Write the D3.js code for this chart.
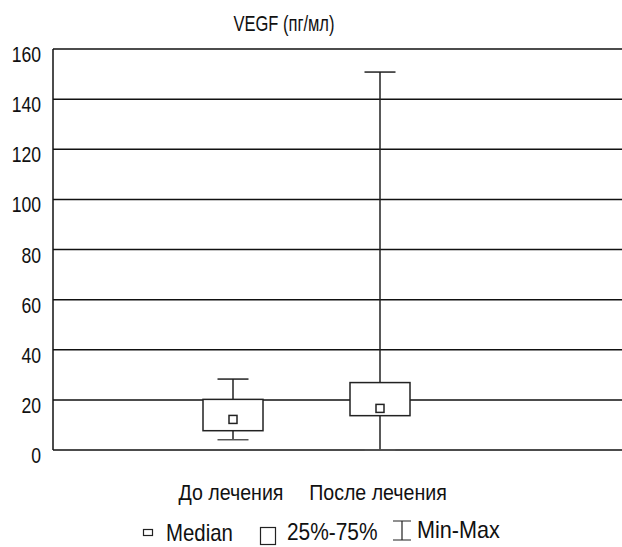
<!DOCTYPE html>
<html>
<head>
<meta charset="utf-8">
<script src="https://cdn.jsdelivr.net/npm/d3@7"></script>
<style>
	body { margin: 0; background: #fff; }
	svg { display: block; }
	text { font-family: "Liberation Sans", Arial, sans-serif; fill: #111; }
</style>
</head>
<body>
<svg id="chart" width="622" height="547"></svg>
<script>
const groups = ['До лечения', 'После лечения']
const mins = [4.1, 0]
const q1 = [7.7, 13.7]
const medians = [12.2, 16.6]
const q3 = [20.2, 26.9]
const maxs = [28.3, 150.8]
const yTicks = [0, 20, 40, 60, 80, 100, 120, 140, 160]

const svg = d3.select('#chart')
const plot = { left: 53, right: 622, top: 49, bottom: 450 }

const y = d3.scaleLinear().domain([0, 160]).range([plot.bottom, plot.top])
const x = d3.scalePoint().domain(groups).range([233, 380])

// no narrow font installed: squeeze glyphs like Arial Narrow
const narrow = (k) => (sel) => sel.each(function () {
	const w = this.getComputedTextLength()
	d3.select(this).attr('textLength', w * k).attr('lengthAdjust', 'spacingAndGlyphs')
})

svg.append('text')
	.attr('x', 284).attr('y', 31)
	.attr('text-anchor', 'middle')
	.style('font-size', '22px')
	.text('VEGF (пг/мл)')
	.call(narrow(0.75))

// grid + y labels
const grid = svg.append('g')
grid.selectAll('line').data(yTicks).enter().append('line')
	.attr('x1', plot.left).attr('x2', plot.right)
	.attr('y1', d => y(d)).attr('y2', d => y(d))
	.attr('stroke', '#111').attr('stroke-width', 1.5)

grid.selectAll('text').data(yTicks).enter().append('text')
	.attr('x', 41).attr('y', d => y(d) + 13)
	.attr('text-anchor', 'end')
	.style('font-size', '22px')
	.text(d => d)
	.call(narrow(0.8))

svg.append('line')
	.attr('x1', plot.left).attr('x2', plot.left).attr('y1', plot.top).attr('y2', plot.bottom)
	.attr('stroke', '#111').attr('stroke-width', 1.5)

// boxes
const boxW = 60, capW = 31, medS = 8
const data = groups.map((g, i) => ({ g, min: mins[i], q1: q1[i], med: medians[i], q3: q3[i], max: maxs[i] }))
const gBox = svg.append('g').selectAll('g').data(data).enter().append('g')

gBox.append('line')
	.attr('x1', d => x(d.g)).attr('x2', d => x(d.g))
	.attr('y1', d => y(d.min)).attr('y2', d => y(d.max))
	.attr('stroke', '#222').attr('stroke-width', 1.5)
gBox.append('line')
	.attr('x1', d => x(d.g) - capW / 2).attr('x2', d => x(d.g) + capW / 2)
	.attr('y1', d => y(d.max)).attr('y2', d => y(d.max))
	.attr('stroke', '#222').attr('stroke-width', 1.5)
gBox.append('line')
	.attr('x1', d => x(d.g) - capW / 2).attr('x2', d => x(d.g) + capW / 2)
	.attr('y1', d => y(d.min)).attr('y2', d => y(d.min))
	.attr('stroke', '#555').attr('stroke-width', 1.5)
gBox.append('rect')
	.attr('x', d => x(d.g) - boxW / 2).attr('width', boxW)
	.attr('y', d => y(d.q3)).attr('height', d => y(d.q1) - y(d.q3))
	.attr('fill', '#fff').attr('stroke', '#222').attr('stroke-width', 1.5)
gBox.append('rect')
	.attr('x', d => x(d.g) - medS / 2).attr('width', medS)
	.attr('y', d => y(d.med) - medS / 2).attr('height', medS)
	.attr('fill', '#fff').attr('stroke', '#222').attr('stroke-width', 1.5)

svg.append('g').selectAll('text').data(groups).enter().append('text')
	.attr('x', d => x(d) - 2).attr('y', 500)
	.attr('text-anchor', 'middle')
	.style('font-size', '22px')
	.text(d => d)
	.call(narrow(0.89))

// legend (the original is cut at the bottom edge; lifted so text stays whole)
const leg = svg.append('g')
leg.append('rect').attr('x', 143.5).attr('y', 529.5).attr('width', 9).attr('height', 6)
	.attr('fill', '#fff').attr('stroke', '#222').attr('stroke-width', 1.2)
leg.append('text').attr('x', 166).attr('y', 541).style('font-size', '24px').text('Median').call(narrow(0.85))
leg.append('rect').attr('x', 260.5).attr('y', 527.5).attr('width', 15).attr('height', 17)
	.attr('fill', '#fff').attr('stroke', '#222').attr('stroke-width', 1.2)
leg.append('text').attr('x', 287).attr('y', 540).style('font-size', '24px').text('25%-75%').call(narrow(0.87))
leg.append('path').attr('d', 'M393,521H411M402,521V540M393,540H411')
	.attr('fill', 'none').attr('stroke', '#222').attr('stroke-width', 1.2)
leg.append('text').attr('x', 417).attr('y', 538).style('font-size', '24px').text('Min-Max').call(narrow(0.9))
</script>
</body>
</html>
